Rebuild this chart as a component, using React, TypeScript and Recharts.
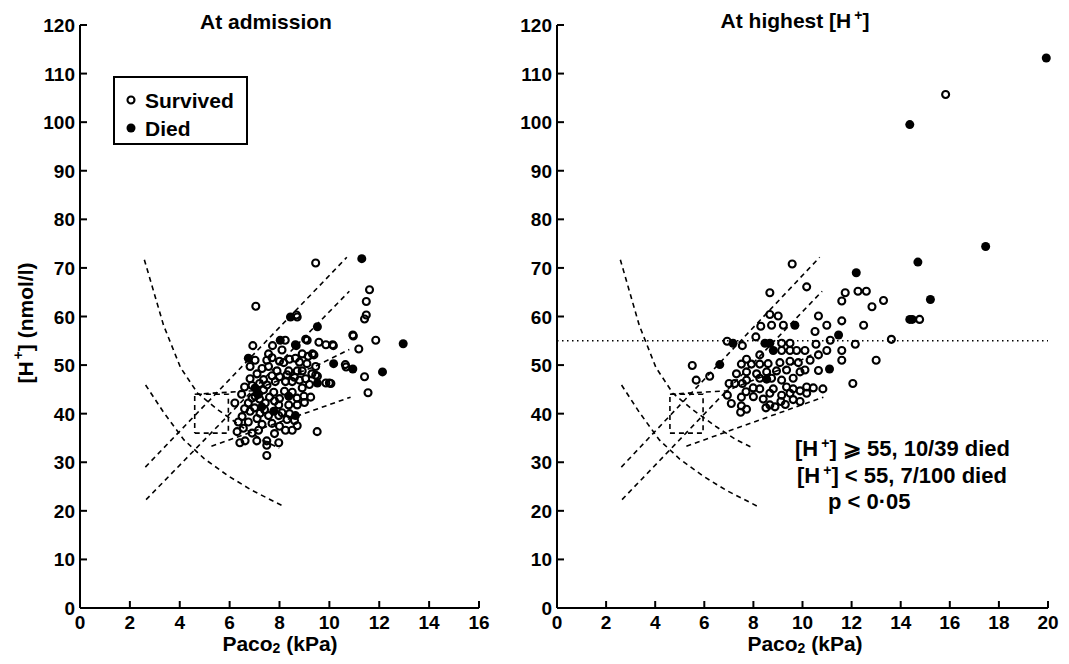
import { ScatterChart, Scatter, XAxis, YAxis, ReferenceLine, Legend } from 'recharts'

const FONT = '"Liberation Sans", Arial, sans-serif'

type Pt = [number, number]
const toXY = (pts: Pt[]) => pts.map(([x, y]) => ({ x, y }))

// At admission: [Paco2 kPa, H+ nmol/l]
const ADM_SURVIVED: Pt[] = [
  [9.45, 71.0], [7.05, 62.1], [8.68, 60.3], [11.61, 65.5], [11.48, 63.1], [11.48, 60.3],
  [11.41, 59.5], [10.94, 56.2], [11.86, 55.1], [11.18, 53.3], [10.64, 50.1], [11.41, 47.6],
  [11.55, 44.3], [9.51, 36.3], [6.93, 54.0], [7.72, 54.0], [8.64, 54.2], [9.11, 55.1],
  [9.58, 54.7], [9.86, 54.2], [10.13, 54.2], [9.32, 52.3], [8.64, 51.4], [9.45, 49.7],
  [9.45, 47.9], [9.86, 46.3], [10.0, 46.3], [9.05, 47.2], [8.98, 43.6], [9.25, 43.4],
  [6.82, 49.7], [7.02, 51.0], [7.49, 51.0], [7.56, 49.7], [7.9, 48.8], [8.17, 50.5],
  [8.37, 48.8], [8.71, 48.8], [8.91, 48.8], [6.82, 47.2], [7.36, 47.0], [7.83, 46.6],
  [8.24, 46.6], [8.51, 46.6], [7.36, 44.9], [7.77, 44.4], [8.51, 44.4], [6.48, 44.0],
  [6.21, 42.2], [6.75, 42.2], [7.43, 42.2], [7.97, 41.8], [8.37, 41.8], [8.71, 41.8],
  [6.82, 40.5], [7.22, 40.1], [7.56, 39.6], [7.97, 39.6], [8.3, 38.8], [6.35, 38.3],
  [6.75, 38.3], [6.55, 37.0], [7.16, 36.6], [8.24, 36.6], [8.51, 36.6], [8.71, 37.5],
  [6.41, 34.0], [6.62, 34.4], [7.09, 34.4], [7.49, 34.4], [7.49, 33.5], [7.97, 34.0],
  [7.49, 31.4], [7.56, 52.3], [8.1, 53.1], [8.91, 52.3], [7.02, 43.6], [8.91, 45.3],
  [6.6, 45.5], [6.9, 45.8], [7.2, 46.2], [7.5, 45.9], [7.7, 47.8], [8.0, 47.6],
  [8.3, 48.0], [8.6, 47.5], [8.8, 46.9], [9.2, 46.0], [9.3, 48.2], [9.1, 50.3],
  [8.8, 50.6], [8.4, 51.2], [8.0, 50.8], [7.7, 51.5], [7.3, 49.3], [7.1, 48.2],
  [6.9, 43.2], [7.2, 43.0], [7.6, 43.4], [8.0, 43.1], [8.2, 44.6], [8.7, 43.2],
  [9.0, 42.3], [6.6, 41.0], [7.0, 41.2], [7.4, 40.8], [7.8, 42.6], [8.1, 40.2],
  [8.4, 40.0], [6.5, 39.4], [7.1, 39.0], [7.3, 37.8], [7.7, 38.0], [8.0, 37.4],
  [6.9, 36.0], [7.8, 35.9], [6.3, 36.3], [8.6, 38.6], [9.05, 55.3], [10.16, 54.0],
  [10.96, 56.0], [9.38, 52.1], [9.15, 51.8], [10.67, 49.6], [8.71, 59.9], [8.23, 55.1],
  [9.52, 47.7], [10.06, 46.2],
]
const ADM_DIED: Pt[] = [
  [11.3, 71.9], [8.44, 59.9], [9.52, 57.9], [8.03, 55.1], [8.67, 54.0], [12.96, 54.4],
  [10.17, 50.3], [10.94, 49.2], [12.13, 48.6], [6.75, 51.4], [9.52, 46.3], [8.64, 39.6],
  [7.02, 45.3], [7.16, 44.0], [8.37, 43.6], [7.29, 41.4], [7.77, 40.5],
]

// At highest [H+]
const PEAK_SURVIVED: Pt[] = [
  [15.83, 105.7], [14.77, 59.4], [13.62, 55.3], [13.0, 51.0], [12.05, 46.2], [9.58, 70.8],
  [10.17, 66.1], [8.67, 64.9], [11.74, 64.9], [12.26, 65.2], [12.6, 65.2], [11.6, 63.2],
  [13.3, 63.3], [12.83, 62.0], [12.49, 58.2], [11.6, 59.1], [10.65, 60.1], [10.99, 58.2],
  [10.51, 56.9], [12.15, 54.3], [11.6, 53.0], [11.6, 51.0], [8.67, 60.4], [9.01, 60.1],
  [8.74, 58.2], [9.22, 58.2], [8.3, 58.0], [8.1, 55.8], [6.93, 54.9], [7.55, 54.0],
  [5.51, 49.9], [5.67, 46.9], [6.22, 47.7], [7.01, 46.2], [7.24, 46.2], [7.55, 46.2],
  [6.94, 43.8], [7.1, 42.1], [7.51, 43.4], [7.51, 41.6], [7.72, 40.9], [7.48, 40.3],
  [8.51, 41.2], [8.67, 41.8], [8.88, 41.4], [9.12, 42.5], [9.62, 42.9], [9.9, 42.5],
  [10.17, 45.5], [10.44, 45.3], [10.83, 45.1], [10.65, 48.9], [10.31, 51.0], [10.65, 52.1],
  [10.99, 53.0], [11.13, 55.1], [10.55, 54.3], [10.1, 53.0], [9.76, 53.0], [9.49, 53.0],
  [9.15, 53.0], [8.26, 52.1], [7.72, 51.2], [7.51, 50.2], [7.92, 50.2], [8.26, 50.2],
  [8.6, 50.3], [9.08, 50.5], [9.49, 50.8], [9.83, 50.5], [7.31, 48.2], [7.72, 48.6],
  [8.13, 48.2], [8.54, 48.6], [8.94, 48.8], [9.35, 49.0], [9.9, 48.6], [10.1, 49.0],
  [7.72, 46.9], [8.26, 47.3], [8.74, 47.3], [9.15, 46.9], [9.62, 47.3], [7.99, 45.3],
  [8.26, 45.1], [8.81, 45.1], [9.35, 45.5], [9.62, 45.1], [9.9, 44.7], [8.67, 44.2],
  [9.15, 43.8], [9.49, 44.2], [10.17, 44.2], [9.15, 54.5], [9.49, 54.5], [7.7, 44.5],
  [8.0, 43.5], [8.4, 43.0], [9.3, 41.9],
]
const PEAK_DIED: Pt[] = [
  [19.93, 113.2], [14.37, 99.5], [17.46, 74.4], [14.7, 71.2], [12.19, 69.0], [15.21, 63.5],
  [14.37, 59.4], [14.47, 59.4], [9.69, 58.2], [11.47, 56.2], [7.17, 54.5], [8.47, 54.5],
  [8.67, 54.5], [8.81, 53.0], [6.63, 50.1], [11.1, 49.2], [8.54, 47.1],
]

// acid-base nomogram bands (dashed)
const META_UPPER: Pt[] = [[2.58, 71.7], [3.35, 58.2], [4.03, 49.5], [4.72, 44.2], [5.53, 40.8], [6.49, 37.3], [7.31, 34.6], [7.99, 32.9]]
const META_LOWER: Pt[] = [[2.63, 45.9], [3.35, 40.3], [4.17, 34.6], [4.99, 30.7], [5.94, 27.2], [6.9, 24.2], [8.18, 20.9]]
const ACUTE_UPPER: Pt[] = [[2.62, 29.0], [10.7, 72.2]]
const ACUTE_LOWER: Pt[] = [[2.65, 22.3], [10.8, 65.2]]
const CHRONIC_UPPER: Pt[] = [[4.6, 44.0], [6.9, 44.7], [9.45, 49.8], [10.8, 53.2]]
const CHRONIC_LOWER: Pt[] = [[5.27, 33.3], [10.85, 43.4]]
const NORMAL_BOX: Pt[] = [[4.6, 36], [5.95, 36], [5.95, 44], [4.6, 44], [4.6, 36]]
const BANDS = [META_UPPER, META_LOWER, ACUTE_UPPER, ACUTE_LOWER, CHRONIC_UPPER, CHRONIC_LOWER, NORMAL_BOX]

const THRESHOLD = 55
const X_TICKS_ADM = [0, 2, 4, 6, 8, 10, 12, 14, 16]
const X_TICKS_PEAK = [0, 2, 4, 6, 8, 10, 12, 14, 16, 18, 20]
const Y_TICKS = [0, 10, 20, 30, 40, 50, 60, 70, 80, 90, 100, 110, 120]

const txt = { fontFamily: FONT, fontWeight: 'bold' as const, fill: '#000' }

function XTick({ x, y, payload }: any) {
  return (
    <g>
      <line x1={x} x2={x} y1={y} y2={y - 7} stroke="#000" strokeWidth={2} />
      <text x={x} y={y + 21} textAnchor="middle" fontSize={19} {...txt}>{payload.value}</text>
    </g>
  )
}

function YTick({ x, y, payload }: any) {
  return (
    <g>
      <line x1={x} x2={x + 7} y1={y} y2={y} stroke="#000" strokeWidth={2} />
      <text x={x - 5} y={y + 7} textAnchor="end" fontSize={19} {...txt}>{payload.value}</text>
    </g>
  )
}

function XTitle({ tx, ty }: any) {
  return (
    <text x={tx} y={ty} textAnchor="middle" dominantBaseline="central" fontSize={21} {...txt}>
      Paco<tspan dy={5} fontSize={14}>2</tspan><tspan dy={-5}> (kPa)</tspan>
    </text>
  )
}

function YTitle({ tx, ty }: any) {
  return (
    <text transform={`translate(${tx},${ty}) rotate(-90)`} textAnchor="middle" dominantBaseline="central" fontSize={21} {...txt}>
      [H<tspan dy={-7} dx={2} fontSize={14}>+</tspan><tspan dy={7}>] (nmol/l)</tspan>
    </text>
  )
}

const OpenDot = (p: any) => <circle cx={p.cx} cy={p.cy} r={3.5} fill="none" stroke="#000" strokeWidth={2.1} />
const FilledDot = (p: any) => <circle cx={p.cx} cy={p.cy} r={4.5} fill="#000" />
const NoDot = () => <g />

function LegendBox() {
  const row = { display: 'flex', alignItems: 'center', height: 28 }
  return (
    <div style={{ width: 135, height: 69, boxSizing: 'border-box', border: '2px solid #000', background: '#fff',
      fontFamily: FONT, fontWeight: 'bold', fontSize: 21, padding: '8px 0 0 10px', lineHeight: 1 }}>
      <div style={row}>
        <svg width={20} height={12}><circle cx={6} cy={6} r={3.5} fill="none" stroke="#000" strokeWidth={2.1} /></svg>
        <span>Survived</span>
      </div>
      <div style={row}>
        <svg width={20} height={12}><circle cx={6} cy={6} r={4.5} fill="#000" /></svg>
        <span>Died</span>
      </div>
    </div>
  )
}

function bandSeries() {
  return BANDS.map((b, i) => (
    <Scatter key={`band${i}`} data={toXY(b)} shape={NoDot} isAnimationActive={false}
      line={{ stroke: '#000', strokeWidth: 1.6, strokeDasharray: '5 4' }} />
  ))
}

function Panel({ xMax, xTicks, survived, died, width, xTitleX, showYTitle, showLegend, threshold }: any) {
  return (
    <ScatterChart width={width} height={664} margin={{ top: 25, right: 21, bottom: 0, left: 0 }}>
      <XAxis type="number" dataKey="x" domain={[0, xMax]} ticks={xTicks} interval={0}
        axisLine={{ stroke: '#000', strokeWidth: 2 }} tickLine={false} tickSize={0} tickMargin={0}
        tick={<XTick />} height={56} label={<XTitle tx={xTitleX} ty={643} />} />
      <YAxis type="number" dataKey="y" domain={[0, 120]} ticks={Y_TICKS} interval={0}
        axisLine={{ stroke: '#000', strokeWidth: 2 }} tickLine={false} tickSize={0} tickMargin={0}
        tick={<YTick />} width={80} label={showYTitle ? <YTitle tx={25} ty={323} /> : undefined} />
      {threshold ? (
        <ReferenceLine y={threshold} stroke="#000" strokeWidth={1.5} strokeDasharray="1.5 3.5" />
      ) : null}
      {bandSeries()}
      <Scatter name="Survived" data={toXY(survived)} shape={OpenDot} isAnimationActive={false} />
      <Scatter name="Died" data={toXY(died)} shape={FilledDot} isAnimationActive={false} />
      {showLegend ? (
        <Legend layout="vertical" align="center" verticalAlign="middle" content={<LegendBox />}
          wrapperStyle={{ left: 113, top: 76, width: 135, height: 69 }} />
      ) : null}
    </ScatterChart>
  )
}

const hText = { position: 'absolute' as const, fontFamily: FONT, fontWeight: 'bold' as const, fontSize: 21, color: '#000', whiteSpace: 'nowrap' as const, lineHeight: 1 }
const noteText = { ...hText, fontSize: 22 }
const sup = { fontSize: 14, verticalAlign: 'super' as const, lineHeight: 0, marginLeft: 3 }

export default function App() {
  return (
    <div style={{ position: 'absolute', left: 0, top: 0, width: 1069, height: 664, background: '#fff', overflow: 'hidden' }}>
      <div style={{ position: 'absolute', left: 0, top: 0 }}>
        <Panel width={500} xMax={16} xTicks={X_TICKS_ADM} survived={ADM_SURVIVED} died={ADM_DIED}
          xTitleX={280} showYTitle showLegend />
      </div>
      <div style={{ position: 'absolute', left: 477, top: 0 }}>
        <Panel width={592} xMax={20} xTicks={X_TICKS_PEAK} survived={PEAK_SURVIVED} died={PEAK_DIED}
          xTitleX={328} threshold={THRESHOLD} />
      </div>
      <div style={{ ...hText, left: 266, top: 21, transform: 'translate(-50%,-50%)' }}>At admission</div>
      <div style={{ ...hText, left: 795, top: 20, transform: 'translate(-50%,-50%)' }}>
        At highest [H<span style={sup}>+</span>]
      </div>
      <div style={{ ...noteText, left: 795, top: 449, transform: 'translateY(-50%)' }}>
        [H<span style={sup}>+</span>] ⩾ 55, 10/39 died
      </div>
      <div style={{ ...noteText, left: 797, top: 476, transform: 'translateY(-50%)' }}>
        [H<span style={sup}>+</span>] &lt; 55, 7/100 died
      </div>
      <div style={{ ...noteText, left: 828, top: 502, transform: 'translateY(-50%)' }}>
        p &lt; 0·05
      </div>
    </div>
  )
}
